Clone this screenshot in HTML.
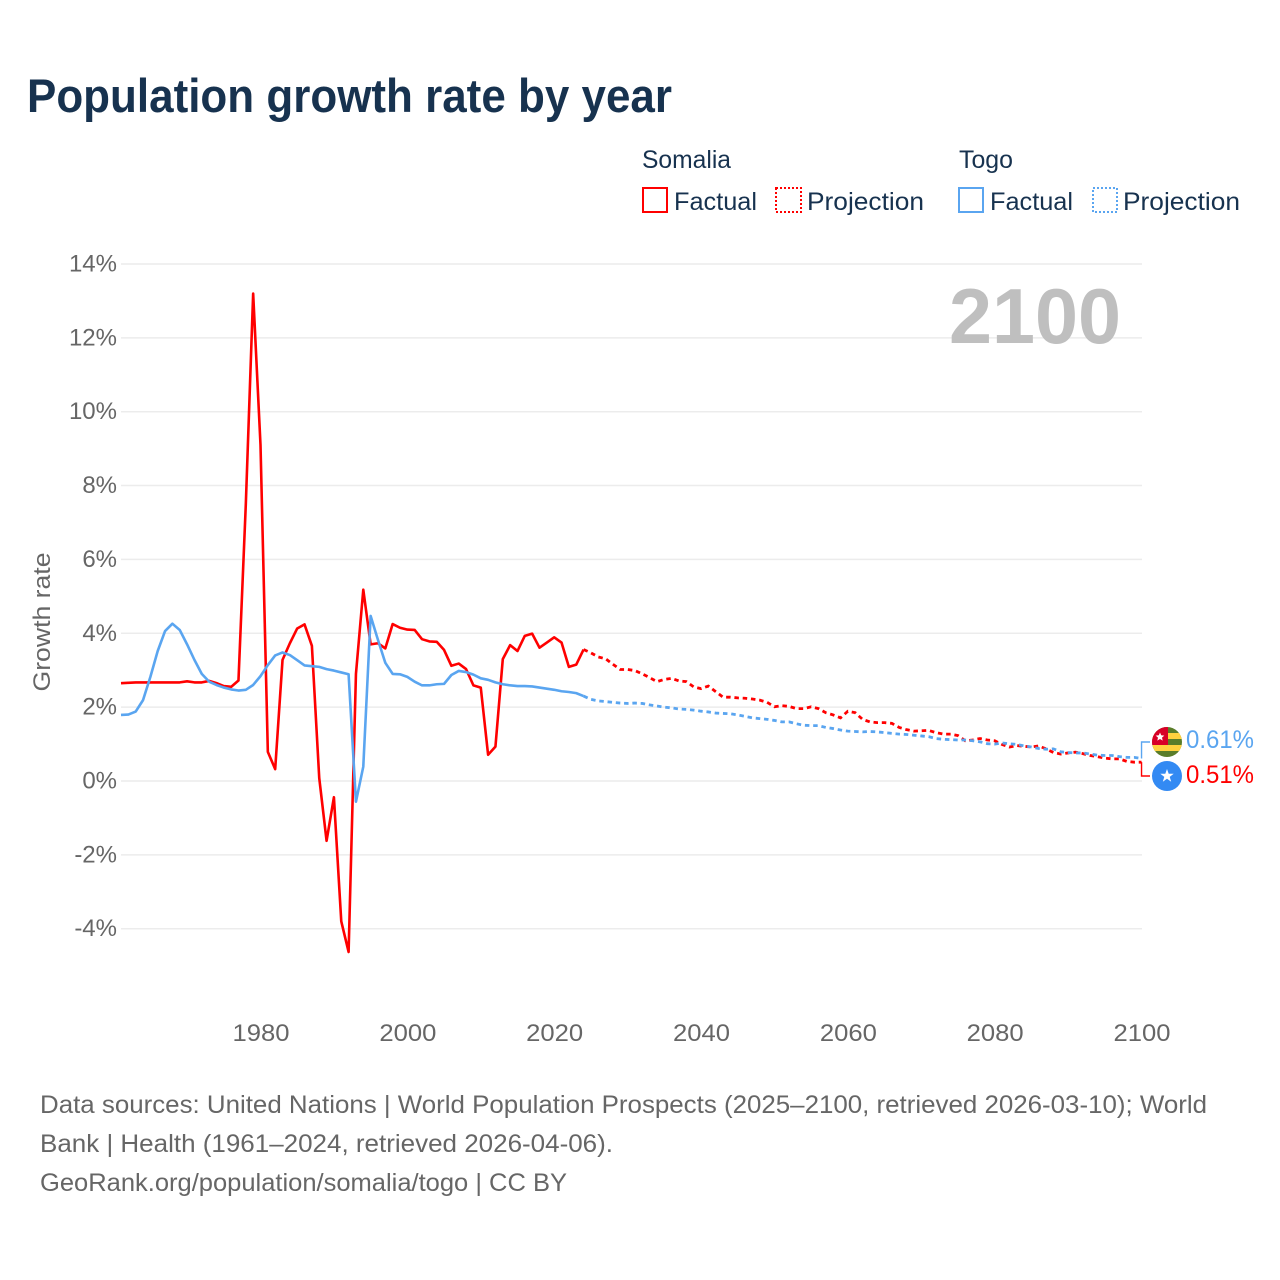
<!DOCTYPE html>
<html lang="en">
<head>
<meta charset="utf-8">
<title>Population growth rate by year</title>
<style>
html,body{margin:0;padding:0;background:#fff;}
svg{display:block;font-family:"Liberation Sans",sans-serif;}
</style>
</head>
<body>
<svg id="chart" width="1280" height="1280" viewBox="0 0 1280 1280" xmlns="http://www.w3.org/2000/svg">
  <defs>
    <clipPath id="flag-clip-togo"><circle cx="1167" cy="742" r="15"/></clipPath>
  </defs>
  <rect width="1280" height="1280" fill="#fff"/>
  <text x="27" y="112" font-size="47" font-weight="700" fill="#17324f" textLength="645" lengthAdjust="spacingAndGlyphs">Population growth rate by year</text>

  <g>
    <text x="642" y="168" font-size="25" fill="#17324f" textLength="89" lengthAdjust="spacingAndGlyphs">Somalia</text>
    <rect x="643" y="188" width="24" height="24" fill="none" stroke="#ff0000" stroke-width="2"/>
    <text x="674" y="210" font-size="25" fill="#17324f" textLength="83" lengthAdjust="spacingAndGlyphs">Factual</text>
    <rect x="776" y="188" width="25" height="24" fill="none" stroke="#ff0000" stroke-width="2" stroke-dasharray="2 2"/>
    <text x="807" y="210" font-size="25" fill="#17324f" textLength="117" lengthAdjust="spacingAndGlyphs">Projection</text>

    <text x="959" y="168" font-size="25" fill="#17324f" textLength="54" lengthAdjust="spacingAndGlyphs">Togo</text>
    <rect x="959" y="188" width="24" height="24" fill="none" stroke="#5aa5f0" stroke-width="2"/>
    <text x="990" y="210" font-size="25" fill="#17324f" textLength="83" lengthAdjust="spacingAndGlyphs">Factual</text>
    <rect x="1093" y="188" width="24" height="24" fill="none" stroke="#5aa5f0" stroke-width="2" stroke-dasharray="2 2"/>
    <text x="1123" y="210" font-size="25" fill="#17324f" textLength="117" lengthAdjust="spacingAndGlyphs">Projection</text>
  </g>

  <g id="grid"></g>
  <text x="949" y="343" font-size="78" font-weight="700" fill="#bfbfbf" textLength="172" lengthAdjust="spacingAndGlyphs">2100</text>
  <g id="ticks"></g>
  <text transform="translate(50 622) rotate(-90)" text-anchor="middle" font-size="24" fill="#666666" textLength="139" lengthAdjust="spacingAndGlyphs">Growth rate</text>
  <g id="series"></g>

  <g clip-path="url(#flag-clip-togo)">
    <rect x="1152" y="727" width="30" height="30" fill="#5a7d2a"/>
    <rect x="1152" y="733" width="30" height="6" fill="#ffd23f"/>
    <rect x="1152" y="745" width="30" height="6" fill="#ffd23f"/>
    <rect x="1152" y="727" width="16" height="18" fill="#d80027"/>
    <polygon points="1160,732.5 1161.2,735.3 1164.3,735.6 1162,737.6 1162.7,740.6 1160,739 1157.3,740.6 1158,737.6 1155.7,735.6 1158.8,735.3" fill="#ffffff"/>
  </g>
  <g>
    <circle cx="1167" cy="776" r="15" fill="#338af3"/>
    <polygon points="1167,769 1168.7,773.7 1173.7,773.8 1169.7,776.9 1171.2,781.7 1167,778.8 1162.8,781.7 1164.3,776.9 1160.3,773.8 1165.3,773.7" fill="#ffffff"/>
  </g>
  <text x="1186" y="748" font-size="25" fill="#5aa5f0" textLength="68" lengthAdjust="spacingAndGlyphs">0.61%</text>
  <text x="1186" y="783" font-size="25" fill="#ff0000" textLength="68" lengthAdjust="spacingAndGlyphs">0.51%</text>

  <g font-size="25" fill="#666666">
    <text x="40" y="1113" textLength="1167" lengthAdjust="spacingAndGlyphs">Data sources: United Nations | World Population Prospects (2025–2100, retrieved 2026-03-10); World</text>
    <text x="40" y="1152" textLength="573" lengthAdjust="spacingAndGlyphs">Bank | Health (1961–2024, retrieved 2026-04-06).</text>
    <text x="40" y="1191" textLength="527" lengthAdjust="spacingAndGlyphs">GeoRank.org/population/somalia/togo | CC BY</text>
  </g>
</svg>
<script>
const startYear = 1961;
const lastFactualYear = 2024;
const yTickValues = [14, 12, 10, 8, 6, 4, 2, 0, -2, -4];
const xTickYears = [1980, 2000, 2020, 2040, 2060, 2080, 2100];

const somaliaFactual = [
  2.65,2.66,2.67,2.67,2.67,2.67,2.67,2.67,2.67,2.70,
  2.67,2.67,2.71,2.65,2.57,2.55,2.72,7.5,13.2,9.1,
  0.79,0.32,3.28,3.73,4.13,4.24,3.66,0.08,-1.62,-0.44,
  -3.8,-4.63,2.9,5.18,3.7,3.73,3.59,4.25,4.15,4.1,
  4.09,3.84,3.78,3.77,3.55,3.12,3.18,3.03,2.59,2.53,
  0.71,0.93,3.3,3.68,3.52,3.93,3.99,3.61,3.75,3.89,
  3.75,3.09,3.15,3.56
];
const somaliaProjection = [
  3.47,3.36,3.31,3.16,3.02,3.02,2.99,2.9,2.8,2.69,
  2.75,2.78,2.71,2.69,2.55,2.5,2.57,2.42,2.27,2.27,
  2.25,2.24,2.22,2.19,2.13,2.01,2.04,2.02,1.96,1.96,
  2.01,1.96,1.85,1.79,1.71,1.89,1.85,1.67,1.6,1.58,
  1.58,1.56,1.45,1.39,1.35,1.36,1.37,1.31,1.27,1.27,
  1.23,1.09,1.11,1.15,1.11,1.09,0.99,0.92,0.96,0.94,
  0.92,0.95,0.87,0.77,0.73,0.76,0.78,0.74,0.69,0.66,
  0.62,0.6,0.6,0.53,0.51,0.51
];
const togoFactual = [
  1.79,1.8,1.88,2.19,2.82,3.52,4.06,4.26,4.09,3.7,
  3.28,2.9,2.69,2.6,2.53,2.48,2.45,2.47,2.6,2.84,
  3.14,3.4,3.48,3.41,3.27,3.13,3.11,3.09,3.03,2.99,
  2.94,2.89,-0.56,0.39,4.47,3.82,3.2,2.9,2.89,2.82,
  2.69,2.59,2.59,2.62,2.63,2.87,2.98,2.95,2.88,2.78,
  2.74,2.67,2.62,2.59,2.57,2.57,2.56,2.53,2.5,2.47,
  2.43,2.41,2.38,2.3
];
const togoProjection = [
  2.21,2.17,2.15,2.13,2.11,2.1,2.11,2.1,2.06,2.03,
  2.0,1.98,1.95,1.94,1.92,1.89,1.87,1.84,1.83,1.82,
  1.79,1.75,1.71,1.69,1.67,1.64,1.6,1.6,1.55,1.51,
  1.5,1.5,1.45,1.42,1.38,1.35,1.34,1.33,1.34,1.33,
  1.31,1.29,1.27,1.26,1.24,1.22,1.2,1.15,1.13,1.12,
  1.11,1.11,1.09,1.06,1.01,1.0,1.03,1.01,0.99,0.95,
  0.92,0.88,0.86,0.87,0.79,0.77,0.76,0.76,0.73,0.7,
  0.69,0.69,0.66,0.64,0.64,0.61
];

const SVG_NS = 'http://www.w3.org/2000/svg';
function xScale(year) { return 260.5 + (year - 1980) * 7.342; }
function yScale(value) { return 781 - value * 36.93; }

function make(tag, attrs, parent, text) {
  const el = document.createElementNS(SVG_NS, tag);
  for (const k in attrs) el.setAttribute(k, attrs[k]);
  if (text !== undefined) el.textContent = text;
  parent.appendChild(el);
  return el;
}

const gridGroup = document.getElementById('grid');
const tickGroup = document.getElementById('ticks');
const seriesGroup = document.getElementById('series');

yTickValues.forEach(function (v) {
  const line = make('line', {x1: 121, x2: 1142, y1: yScale(v), y2: yScale(v), stroke: '#ececec', 'stroke-width': 1.5}, gridGroup);
  
  
  const label = make('text', {x: 117, y: yScale(v) + 7.5, 'text-anchor': 'end', 'font-size': 24, fill: '#666666'}, tickGroup, v + '%');
  
  
});

xTickYears.forEach(function (y) {
  const label = make('text', {x: xScale(y) + 0.5, y: 1041, 'text-anchor': 'middle', 'font-size': 24, fill: '#666666', textLength: 57, lengthAdjust: 'spacingAndGlyphs'}, tickGroup, String(y));
  
  
});

function pathFrom(values, firstYear) {
  return values.map(function (v, i) {
    return (i ? 'L' : 'M') + xScale(firstYear + i).toFixed(2) + ' ' + yScale(v).toFixed(2);
  }).join(' ');
}

function drawSeries(factual, projection, color, key, connectorEndY) {
  const solid = make('path', {d: pathFrom(factual, startYear), fill: 'none', stroke: color, 'stroke-width': 2.6, 'stroke-linejoin': 'round'}, seriesGroup);
  
  
  const joined = [factual[factual.length - 1]].concat(projection);
  const dashed = make('path', {d: pathFrom(joined, lastFactualYear), fill: 'none', stroke: color, 'stroke-width': 2.8, 'stroke-dasharray': '4.5 3.8'}, seriesGroup);
  
  
  const endX = xScale(startYear + factual.length + projection.length - 1);
  const endY = yScale(projection[projection.length - 1]);
  const connector = make('path', {d: 'M' + endX + ' ' + endY + ' L' + endX + ' ' + connectorEndY + ' L1150 ' + connectorEndY, fill: 'none', stroke: color, 'stroke-width': 1.4}, seriesGroup);
  
  
}

drawSeries(somaliaFactual, somaliaProjection, '#ff0000', 'somalia', 776);
drawSeries(togoFactual, togoProjection, '#5aa5f0', 'togo', 742);
</script>
</body>
</html>
